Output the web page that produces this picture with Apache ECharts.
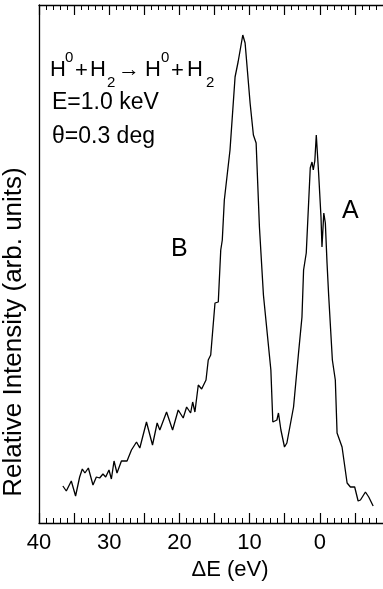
<!DOCTYPE html>
<html>
<head>
<meta charset="utf-8">
<script src="https://cdn.jsdelivr.net/npm/echarts@6/dist/echarts.min.js"></script>
<style>html,body{margin:0;padding:0;background:#fff;overflow:hidden}#c{width:392px;height:589px}</style>
</head>
<body>
<div id="c"></div>
<script>
// Energy loss ΔE (eV)
var deltaE = [36.6,36.11,35.4,34.79,34.21,33.83,33.46,32.97,32.31,31.83,31.36,30.89,30.5,30.03,29.69,29.31,28.89,28.26,27.46,26.83,26.11,25.64,24.69,23.83,23.17,22.79,21.83,20.97,20.17,19.46,18.97,18.4,18.11,17.79,17.31,16.83,16.21,15.89,15.54,14.93,14.46,14.11,13.89,13.6,12.79,12.07,11.64,10.97,10.64,9.93,9.46,9.07,8.6,8.03,6.97,6.69,6.11,5.89,5.54,5.03,4.69,3.74,3.03,2.54,2.31,1.93,1.36,1.11,0.93,0.71,0.5,0.17,-0.17,-0.31,-0.57,-0.79,-1.03,-1.26,-1.79,-2.21,-2.46,-3.17,-3.89,-4.36,-4.97,-5.46,-5.79,-6.5,-6.97,-7.6];
// Relative intensity (arb. units)
var intensity = [37,32,42,27,46,54,50,55,38,46,45,49,46,53,44,62,50,62,62,73,81,75,101,78,100,93,111,93,113,105,116,110,121,111,138,134,143,163,168,220,221,273,283,323,373,446,461,488,480,420,388,380,296,228,153,101,103,110,93,76,80,116,170,206,253,270,355,361,353,362,388,350,306,276,310,300,260,228,163,143,90,76,40,36,36,22,23,31,26,17];
var tickLabels = [40,30,20,10,0];

var pts = deltaE.map(function(e,i){return [e, intensity[i]];});
var FONT = 'Liberation Sans, Arial, Helvetica, sans-serif';
function txt(s, x, y, size, align) {
  return {type:'text', x:x, y:y, silent:true,
    style:{text:s, font: size+'px '+FONT, fill:'#000', textAlign: align||'left', align: align||'left', textVerticalAlign:'middle', verticalAlign:'middle'}};
}
function xa(pos, labels) {
  return {type:'value', position:pos, inverse:true, min:-10, max:40, interval:5,
    axisLine:{show:true, onZero:false, lineStyle:{color:'#000', width:1.3}},
    splitLine:{show:false},
    axisTick:{show:true, inside:true, length:10, lineStyle:{color:'#000', width:1.2}},
    minorTick:{show:true, splitNumber:5, length:5, lineStyle:{color:'#000', width:1}},
    axisLabel: labels ? {show:true, color:'#000', fontSize:22, fontFamily:FONT, margin:9,
      showMinLabel:false, showMaxLabel:true,
      formatter:function(v){ return tickLabels.indexOf(v) >= 0 ? String(v) : ''; }} : {show:false}};
}
var chart = echarts.init(document.getElementById('c'), null, {renderer:'canvas'});
chart.setOption({
  animation:false,
  grid:{left:39, right:2, top:5, bottom:66},
  xAxis:[ xa('bottom', true), xa('top', false) ],
  yAxis:{type:'value', min:0, max:518, axisLine:{show:true, onZero:false, lineStyle:{color:'#000', width:1.3}}, axisTick:{show:false}, axisLabel:{show:false}, splitLine:{show:false}},
  series:[{type:'line', xAxisIndex:0, data:pts, showSymbol:false, symbol:'none',
    lineStyle:{color:'#000', width:1.3}}],
  graphic:[
    {type:'text', x:14, y:332, rotation:Math.PI/2, silent:true,
     style:{text:'Relative Intensity (arb. units)', font:'26px '+FONT, fill:'#000', textAlign:'center', align:'center', textVerticalAlign:'middle', verticalAlign:'middle'}},
    txt('ΔE (eV)', 230, 570, 22, 'center'),
    txt('H', 50, 70, 22), txt('0', 65, 58, 15), txt('+', 75, 71, 22), txt('H', 90, 70, 22), txt('2', 107, 83, 15),
    txt('→', 118, 70, 22),
    txt('H', 145, 70, 22), txt('0', 161, 58, 15), txt('+', 171, 71, 22), txt('H', 187, 70, 22), txt('2', 206, 83, 15),
    txt('E=1.0 keV', 52, 103, 23),
    txt('θ=0.3 deg', 52, 137, 23),
    txt('B', 171, 249, 25),
    txt('A', 342, 211, 25)
  ]
});
</script>
</body>
</html>
